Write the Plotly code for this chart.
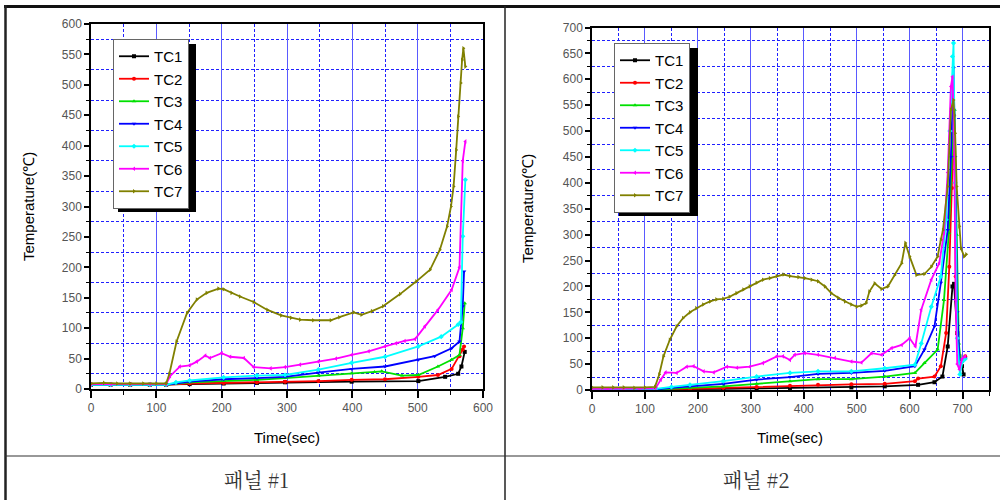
import plotly.graph_objects as go

names = ["TC1", "TC2", "TC3", "TC4", "TC5", "TC6", "TC7"]
colors = ["#000000", "#ff0000", "#00e000", "#0000ff", "#00ffff", "#ff00ff", "#808000"]
symbols = ["square", "circle", "triangle-up", "triangle-down", "diamond", "triangle-left", "triangle-right"]

# ---------------- Panel #1 ----------------
L_TC1_t = [0, 30, 60, 90, 115, 151, 203, 254, 297, 399, 501, 542, 562, 567, 572]
L_TC1_v = [7, 7, 7, 7, 7, 8, 9, 10, 11, 12, 13, 20, 25, 37, 61]
L_TC2_t = [0, 30, 60, 90, 115, 151, 203, 254, 297, 348, 399, 450, 501, 531, 552, 564, 569, 571]
L_TC2_v = [7, 7, 7, 7, 7, 9, 10, 11, 12, 13, 15, 16, 20, 23, 33, 54, 65, 70]
L_TC3_t = [0, 30, 60, 90, 115, 151, 203, 254, 297, 348, 399, 434, 445, 476, 501, 531, 552, 564, 569, 572]
L_TC3_v = [7, 7, 7, 7, 7, 11, 13, 15, 18, 22, 26, 28, 29, 22, 23, 37, 48, 56, 100, 141]
L_TC4_t = [0, 30, 60, 90, 115, 151, 203, 254, 297, 348, 399, 450, 501, 526, 552, 564, 569, 571]
L_TC4_v = [7, 7, 7, 7, 7, 12, 16, 18, 20, 27, 33, 37, 48, 54, 67, 78, 136, 193]
L_TC5_t = [0, 30, 60, 90, 115, 130, 151, 203, 254, 297, 348, 399, 450, 501, 536, 562, 566, 569, 573]
L_TC5_v = [7, 7, 7, 7, 7, 11, 14, 19, 22, 23, 32, 43, 53, 70, 86, 106, 110, 251, 344]
L_TC6_t = [0, 30, 60, 90, 115, 121, 136, 151, 162, 175, 182, 200, 213, 234, 249, 275, 297, 320, 348,
           375, 399, 425, 450, 467, 480, 496, 511, 531, 552, 564, 569, 573]
L_TC6_v = [8, 8, 8, 8, 8, 21, 37, 39, 45, 55, 51, 59, 53, 51, 36, 34, 36, 40, 45,
           50, 56, 62, 70, 75, 79, 82, 103, 130, 163, 200, 375, 407]
L_TC7_t = [0, 20, 40, 60, 80, 100, 115, 120, 131, 147, 162, 177, 195, 203, 215, 228, 249, 270, 291, 306,
           320, 340, 367, 380, 402, 414, 430, 447, 473, 498, 519, 534, 545, 551, 555, 559, 562, 566, 568, 570, 573]
L_TC7_v = [9, 10, 9, 9, 9, 9, 9, 25, 78, 125, 147, 158, 165, 164, 158, 152, 143, 130, 121, 117,
           114, 113, 113, 118, 126, 122, 128, 136, 156, 177, 196, 229, 267, 300, 333, 393, 448, 503, 541, 560, 530]

# ---------------- Panel #2 ----------------
R_TC1_t = [0, 60, 120, 185, 248, 311, 374, 490, 553, 616, 647, 662, 672, 681, 684, 690, 694, 699, 702]
R_TC1_v = [1, 1, 1, 1, 2, 3, 4, 5, 7, 10, 15, 26, 84, 200, 205, 110, 65, 46, 30]
R_TC2_t = [0, 60, 120, 185, 248, 311, 374, 427, 490, 553, 610, 616, 647, 659, 669, 675, 680, 684, 687, 690, 694, 699, 705]
R_TC2_v = [1, 1, 1, 2, 4, 6, 8, 10, 11, 12, 17, 22, 26, 46, 110, 238, 390, 530, 219, 110, 60, 55, 65]
R_TC3_t = [0, 60, 120, 185, 248, 311, 374, 427, 490, 553, 610, 628, 653, 665, 674, 680, 685, 689, 693, 697, 701, 705]
R_TC3_v = [1, 1, 1, 4, 7, 12, 17, 21, 21, 26, 33, 52, 78, 174, 303, 450, 541, 300, 90, 50, 60, 62]
R_TC4_t = [0, 60, 120, 150, 185, 248, 311, 374, 427, 490, 553, 610, 628, 647, 659, 672, 678, 683, 686, 690, 695, 700, 705]
R_TC4_v = [1, 1, 1, 4, 7, 12, 20, 25, 31, 33, 37, 46, 78, 123, 207, 309, 450, 622, 450, 150, 45, 60, 62]
R_TC5_t = [0, 60, 120, 150, 185, 248, 311, 374, 427, 490, 553, 610, 622, 641, 659, 669, 676, 681, 683, 686, 690, 695, 700, 705]
R_TC5_v = [2, 2, 2, 6, 10, 17, 26, 33, 36, 36, 42, 49, 90, 161, 219, 329, 500, 644, 670, 400, 100, 30, 55, 60]
R_TC6_t = [0, 30, 60, 90, 120, 130, 139, 160, 179, 192, 211, 230, 255, 274, 298, 323, 349, 361, 374, 383,
           402, 427, 459, 490, 509, 528, 547, 566, 585, 600, 611, 622, 641, 656, 665, 672, 678, 681, 684,
           687, 690, 694, 699, 705]
R_TC6_v = [2, 2, 2, 2, 3, 20, 34, 33, 45, 46, 36, 34, 45, 43, 45, 52, 65, 65, 58, 68,
           71, 68, 62, 55, 53, 71, 68, 81, 87, 100, 84, 155, 213, 245, 303, 420, 586, 605, 500,
           174, 50, 40, 60, 65]
R_TC7_t = [0, 20, 40, 60, 80, 100, 119, 127, 135, 147, 160, 172, 185, 197, 210, 223, 235, 248, 260, 273,
           286, 298, 311, 323, 336, 349, 362, 374, 390, 402, 415, 427, 440, 452, 465, 478, 490, 500, 509,
           518, 524, 534, 547, 559, 572, 585, 592, 600, 613, 628, 641, 653, 659, 663, 672, 678, 683, 686,
           689, 694, 697, 703, 707]
R_TC7_v = [5, 5, 5, 5, 4, 5, 6, 30, 65, 97, 123, 139, 150, 158, 165, 171, 175, 176, 180, 187,
           194, 200, 207, 213, 216, 220, 223, 220, 218, 216, 213, 210, 200, 187, 178, 171, 165, 161, 163,
           168, 190, 206, 195, 200, 222, 245, 284, 258, 222, 224, 238, 258, 290, 309, 393, 541, 560, 496,
           393, 316, 274, 258, 262]

left_series = [(L_TC1_t, L_TC1_v), (L_TC2_t, L_TC2_v), (L_TC3_t, L_TC3_v), (L_TC4_t, L_TC4_v),
               (L_TC5_t, L_TC5_v), (L_TC6_t, L_TC6_v), (L_TC7_t, L_TC7_v)]
right_series = [(R_TC1_t, R_TC1_v), (R_TC2_t, R_TC2_v), (R_TC3_t, R_TC3_v), (R_TC4_t, R_TC4_v),
                (R_TC5_t, R_TC5_v), (R_TC6_t, R_TC6_v), (R_TC7_t, R_TC7_v)]

fig = go.Figure()
for i, (t, v) in enumerate(left_series):
    fig.add_trace(go.Scatter(x=t, y=v, name=names[i], mode="lines+markers",
                             line=dict(color=colors[i], width=1.8),
                             marker=dict(symbol=symbols[i], size=4, color=colors[i]),
                             xaxis="x", yaxis="y", legend="legend"))
for i, (t, v) in enumerate(right_series):
    fig.add_trace(go.Scatter(x=t, y=v, name=names[i], mode="lines+markers",
                             line=dict(color=colors[i], width=1.8),
                             marker=dict(symbol=symbols[i], size=4, color=colors[i]),
                             xaxis="x2", yaxis="y2", legend="legend2"))

W, H = 1000, 500
def px(x):
    return x / W
def py(y):
    return 1 - y / H

tickfont = dict(family="Liberation Sans, Arial, sans-serif", size=12, color="#555555")
grid_major = "#5a5aff"
grid_minor = "#2020ff"

def xaxis(domain, rng, anchor):
    return dict(domain=domain, range=rng, anchor=anchor, dtick=100, tick0=0,
                showline=True, mirror=True, linecolor="black", linewidth=1.5,
                ticks="outside", ticklen=7, tickwidth=1.5, tickcolor="black",
                showgrid=True, gridcolor=grid_major, gridwidth=1, zeroline=False,
                tickfont=tickfont, automargin=False,
                minor=dict(dtick=50, ticks="outside", ticklen=4, tickwidth=1.2, tickcolor="black",
                           showgrid=True, gridcolor=grid_minor, griddash="3px,2px", gridwidth=1))

def yaxis(domain, rng, anchor):
    return dict(domain=domain, range=rng, anchor=anchor, dtick=50, tick0=0,
                showline=True, mirror=True, linecolor="black", linewidth=1.5,
                ticks="outside", ticklen=5, tickwidth=1.5, tickcolor="black",
                showgrid=False, zeroline=False, tickfont=tickfont, automargin=False,
                minor=dict(dtick=25, ticks="outside", ticklen=3, tickwidth=1.2, tickcolor="black",
                           showgrid=True, gridcolor=grid_minor, griddash="3px,2px", gridwidth=1))

legfont = dict(family="Arial, Liberation Sans, sans-serif", size=15, color="black")

fig.update_layout(
    width=W, height=H, margin=dict(l=0, r=0, t=0, b=0),
    paper_bgcolor="white", plot_bgcolor="white", showlegend=True,
    xaxis=xaxis([px(91), px(483)], [0, 600], "y"),
    yaxis=yaxis([py(389), py(24)], [0, 600], "x"),
    xaxis2=xaxis([px(592), px(989)], [0, 750], "y2"),
    yaxis2=yaxis([py(390), py(27.5)], [0, 700], "x2"),
    legend=dict(x=px(113), y=py(39), xanchor="left", yanchor="top", bgcolor="white",
                bordercolor="#666666", borderwidth=1, font=legfont),
    legend2=dict(x=px(614), y=py(43), xanchor="left", yanchor="top", bgcolor="white",
                 bordercolor="#666666", borderwidth=1, font=legfont),
)

shapes = []
# legend shadows
shapes.append(dict(type="rect", xref="paper", yref="paper", x0=px(118), x1=px(196), y0=py(44), y1=py(212),
                   fillcolor="black", line=dict(width=0), layer="above"))
shapes.append(dict(type="rect", xref="paper", yref="paper", x0=px(619), x1=px(698), y0=py(48), y1=py(216),
                   fillcolor="black", line=dict(width=0), layer="above"))
# table lines
shapes.append(dict(type="line", xref="paper", yref="paper", x0=px(4), x1=1, y0=py(6.5), y1=py(6.5),
                   line=dict(color="#111111", width=3)))
shapes.append(dict(type="line", xref="paper", yref="paper", x0=px(5.5), x1=px(5.5), y0=py(5), y1=0,
                   line=dict(color="#222222", width=2.5)))
shapes.append(dict(type="line", xref="paper", yref="paper", x0=px(505), x1=px(505), y0=py(6), y1=0,
                   line=dict(color="#222222", width=1.5)))
shapes.append(dict(type="line", xref="paper", yref="paper", x0=px(5), x1=1, y0=py(456), y1=py(456),
                   line=dict(color="#333333", width=1.2)))
fig.update_layout(shapes=shapes)

titlefont = dict(family="Arial, Liberation Sans, sans-serif", size=15, color="black")
ann = []
def add_ann(text, x, y, font, angle=0):
    ann.append(dict(text=text, x=px(x), y=py(y), xref="paper", yref="paper",
                    xanchor="center", yanchor="middle", textangle=angle,
                    showarrow=False, font=font))
add_ann("Temperature(℃)", 29, 207, titlefont, -90)
add_ann("Time(sec)", 287, 437, titlefont)
add_ann("Temperature(℃)", 528, 209, titlefont, -90)
add_ann("Time(sec)", 790, 437, titlefont)
labfont = dict(family="Noto Serif CJK KR, Noto Sans CJK KR, serif", size=20, color="#333333")
add_ann("패널 #1", 256, 479, labfont)
add_ann("패널 #2", 756, 479, labfont)
fig.update_layout(annotations=ann)

fig.write_html("out.html", config={"displayModeBar": False},
               post_script="document.body.style.margin='0px';document.body.style.overflow='hidden';")
